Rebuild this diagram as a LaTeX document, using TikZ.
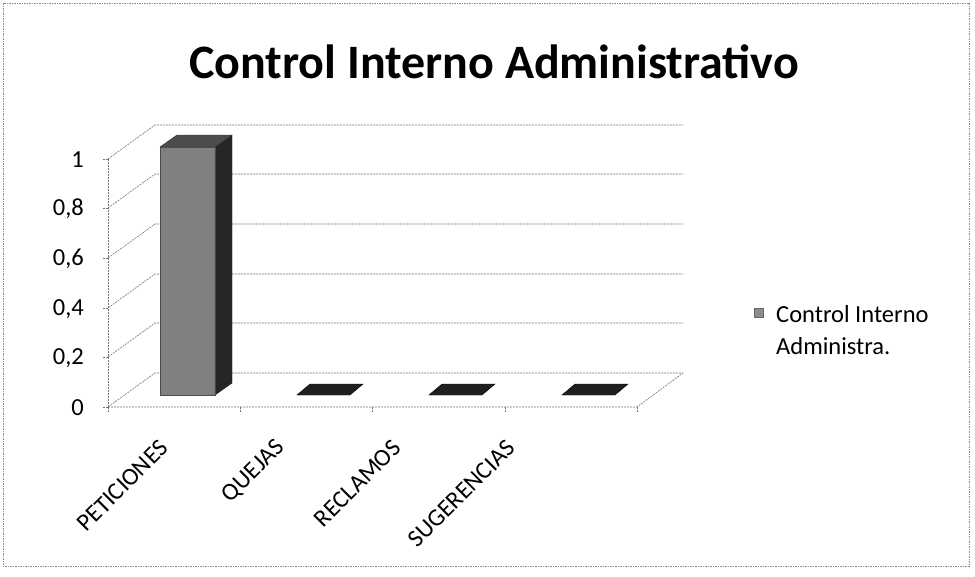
\documentclass[tikz,border=0pt]{standalone}
\usepackage{fontspec}
\setmainfont{Carlito}
\begin{document}
\begin{tikzpicture}[x=1pt,y=-1pt,
  grid/.style={black!55,line width=0.6pt,dash pattern=on 2pt off 1pt},
  frame/.style={black!45,line width=0.6pt,dash pattern=on 1.5pt off 1pt},
  lbl/.style={font=\fontsize{24.5}{28}\selectfont,inner sep=0pt},
  catlbl/.style={lbl,rotate=45,anchor=east},
  front/.style={fill=black!50,draw=black!70,line width=0.4pt},
  side/.style={fill=black!85,draw=black!90,line width=0.4pt},
  topf/.style={fill=black!70,draw=black!80,line width=0.4pt},
  flat/.style={fill=black!88,draw=black,line width=0.4pt}]
\useasboundingbox (0,0) rectangle (975,576);
\fill[white] (0,0) rectangle (975,576);
\draw[frame] (3,3) rectangle (969,566);
% title
\node[font=\fontsize{48}{54}\selectfont\bfseries,inner sep=0pt] (title) at (494,62) {Control Interno Administrativo};
% axis, walls and gridlines
\foreach \v/\y/\t in {0/407/0,1/357/{0,2},2/308/{0,4},3/258/{0,6},4/208/{0,8},5/159/1}{
  \coordinate (f\v) at (108,\y);
  \coordinate (b\v) at (155,\y-34);
  \coordinate (r\v) at (683,\y-34);
  \draw[grid] (f\v) -- (b\v) -- (r\v);
  \draw[grid] (f\v) -- ++(-5,0);
  \node[lbl,anchor=east] (t\v) at (84,\y+1) {\t};
}
\draw[grid] (f0) -- (f5);
\coordinate (fr) at (637,407);
\draw[grid] (f0) -- (fr) -- (r0);
\foreach \x [count=\i] in {108,240,372,505,637}{
  \coordinate (c\i) at (\x,407);
  \draw[grid] (c\i) -- ++(0,6);
}
% bar PETICIONES
\coordinate (p1) at (160,395);
\coordinate (p2) at (215,395);
\coordinate (p3) at (232,383);
\coordinate (p4) at (232,135);
\coordinate (p5) at (215,147);
\coordinate (p6) at (160,147);
\coordinate (p7) at (177,135);
\fill[front] (p1) -- (p2) -- (p5) -- (p6) -- cycle;
\fill[side] (p2) -- (p3) -- (p4) -- (p5) -- cycle;
\fill[topf] (p6) -- (p5) -- (p4) -- (p7) -- cycle;
\draw[black!70,line width=0.4pt] (p1) -- (p2) -- (p5) -- (p6) -- cycle;
% flat bars
\foreach \dx in {137,269,402}{
  \fill[flat] (160+\dx,395) -- (213+\dx,395) -- (226+\dx,384) -- (173+\dx,384) -- cycle;
}
% category labels
\node[catlbl] (peticiones) at (164,444) {PETICIONES};
\node[catlbl] (quejas) at (281,444) {QUEJAS};
\node[catlbl] (reclamos) at (397,444) {RECLAMOS};
\node[catlbl] (sugerencias) at (511,444) {SUGERENCIAS};
% legend
\node[fill=black!45,draw=black!60,line width=0.4pt,minimum size=9pt,inner sep=0pt] (key) at (759,313) {};
\node[lbl,anchor=west] (leg1) at (776,314) {Control Interno};
\node[lbl,anchor=west] (leg2) at (776,346) {Administra.};
\end{tikzpicture}
\end{document}
